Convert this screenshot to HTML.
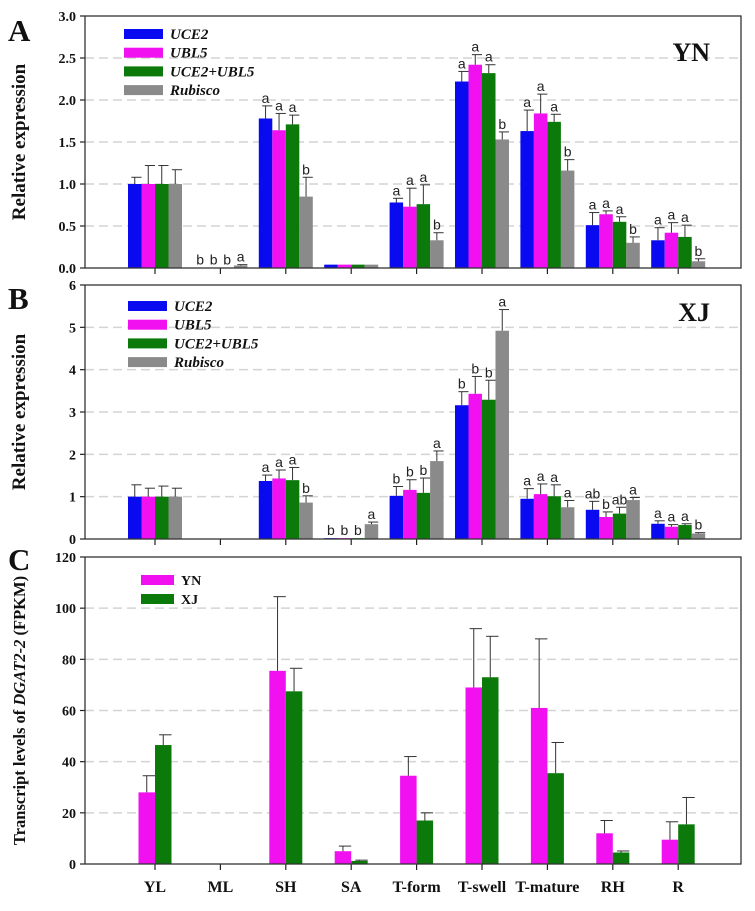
<!DOCTYPE html>
<html><head><meta charset="utf-8"><style>
body{margin:0;background:#fff;}
svg text{font-family:"Liberation Serif",serif;}
</style></head><body>
<svg id="fig" width="755" height="906" viewBox="0 0 755 906" xmlns="http://www.w3.org/2000/svg"></svg>
<script>
const categories=["YL","ML","SH","SA","T-form","T-swell","T-mature","RH","R"];
// Panel A (YN)
const aUCE2=[1.0,0.005,1.78,0.04,0.78,2.22,1.63,0.51,0.33];
const aUCE2Err=[0.08,0,0.15,0,0.05,0.12,0.25,0.15,0.15];
const aUBL5=[1.0,0.005,1.64,0.04,0.73,2.42,1.84,0.64,0.42];
const aUBL5Err=[0.22,0,0.2,0,0.22,0.12,0.23,0.04,0.12];
const aCombo=[1.0,0.005,1.71,0.04,0.76,2.32,1.74,0.55,0.37];
const aComboErr=[0.22,0,0.11,0,0.23,0.1,0.09,0.06,0.14];
const aRub=[1.0,0.03,0.85,0.04,0.33,1.53,1.16,0.30,0.08];
const aRubErr=[0.17,0.01,0.23,0,0.09,0.09,0.13,0.07,0.03];
const aLetters=[["","","",""],["b","b","b","a"],["a","a","a","b"],["","","",""],["a","a","a","b"],["a","a","a","b"],["a","a","a","b"],["a","a","a","b"],["a","a","a","b"]];
const aTicks=["0.0","0.5","1.0","1.5","2.0","2.5","3.0"];
// Panel B (XJ)
const bUCE2=[1.0,0,1.37,0.02,1.02,3.16,0.95,0.69,0.36];
const bUCE2Err=[0.28,0,0.14,0,0.22,0.32,0.24,0.2,0.07];
const bUBL5=[1.0,0,1.43,0.02,1.16,3.43,1.06,0.52,0.29];
const bUBL5Err=[0.2,0,0.2,0,0.24,0.41,0.24,0.12,0.05];
const bCombo=[1.0,0,1.39,0.02,1.09,3.29,1.01,0.6,0.33];
const bComboErr=[0.25,0,0.3,0,0.35,0.46,0.27,0.15,0.03];
const bRub=[1.0,0.01,0.86,0.35,1.84,4.92,0.75,0.92,0.13];
const bRubErr=[0.2,0,0.16,0.05,0.24,0.5,0.16,0.06,0.02];
const bLetters=[["","","",""],["","","",""],["a","a","a","b"],["b","b","b","a"],["b","b","b","a"],["b","b","b","a"],["a","a","a","a"],["ab","b","ab","a"],["a","a","a","b"]];
const bTicks=["0","1","2","3","4","5","6"];
// Panel C
const cYN=[28,0,75.5,5,34.5,69,61,12,9.5];
const cYNErr=[6.5,0,29,2,7.5,23,27,5,7];
const cXJ=[46.5,0,67.5,1.2,17,73,35.5,4.5,15.5];
const cXJErr=[4,0,9,0.3,3,16,12,0.6,10.5];
const cTicks=["0","20","40","60","80","100","120"];

const svg=document.getElementById('fig');
const NS="http://www.w3.org/2000/svg";
function mk(tag,attrs,parent){const e=document.createElementNS(NS,tag);for(const k in attrs)e.setAttribute(k,attrs[k]);(parent||svg).appendChild(e);return e;}
const L=85,R=741;
function xPos(i){return 155+65.4*i;}
const colors={blue:"#0a0af0",mag:"#f010f0",green:"#0b7a0b",gray:"#8a8a8a"};

function panel(name,top,bottom,ticks,max,series,letters,barW,legend,legendY,legendX,tag,tagY,ylabel,letter,letterY){
  const g=mk('g',{});
  
  
  const y=v=>bottom-(v/max)*(bottom-top);
  ticks.forEach((t,k)=>{
    const v=max*k/(ticks.length-1);const yy=y(v);
    if(k>0&&k<ticks.length-1){const gl=mk('line',{x1:L,x2:R,y1:yy,y2:yy,stroke:"#d4d4d4","stroke-width":1.5,"stroke-dasharray":"9,5"},g);}
    mk('line',{x1:L-5,x2:L,y1:yy,y2:yy,stroke:"#222","stroke-width":1.2},g);
    const tx=mk('text',{x:L-9,y:yy+5,"text-anchor":"end","font-size":14,"font-weight":"bold",fill:"#111"},g);tx.textContent=t;
    
  });
  const n=series.length;
  categories.forEach((c,i)=>{
    mk('line',{x1:xPos(i),x2:xPos(i),y1:bottom,y2:bottom+6,stroke:"#222","stroke-width":1.2},g);
    series.forEach((s,j)=>{
      const cx=xPos(i)+(j-(n-1)/2)*barW;const v=s.vals[i];const e=s.err[i];
      const yv=y(v);
      const r=mk('rect',{x:cx-barW/2,y:yv,width:barW,height:Math.max(0,bottom-yv),fill:s.color},g);
      
      if(e>0){const ye=y(v+e);
        mk('line',{x1:cx,x2:cx,y1:yv,y2:ye,stroke:"#333","stroke-width":1},g);
        mk('line',{x1:cx-barW/4,x2:cx+barW/2,y1:ye,y2:ye,stroke:"#333","stroke-width":1},g);}
      if(letters&&letters[i][j]){
        const lt=mk('text',{x:cx,y:y(v+e)-3,"text-anchor":"middle","font-size":14,fill:"#222"},g);
        lt.setAttribute('style','font-family:"Liberation Sans",sans-serif');
        lt.textContent=letters[i][j];
      }
    });
  });
  const fr=mk('rect',{x:L,y:top,width:R-L,height:bottom-top,fill:"none",stroke:"#333","stroke-width":1.3},g);
  
  legend.forEach((it,k)=>{
    const ly=legendY+k*legend.step;
    const sw=mk('rect',{x:legendX,y:ly-5,width:legend.sw,height:10,fill:it.color},g);
    
    const t=mk('text',{x:legendX+legend.sw+7,y:ly+5,"font-size":legend.fs,"font-weight":"bold","font-style":legend.italic?"italic":"normal",fill:"#111"},g);
    t.textContent=it.label;
  });
  if(tag){const t=mk('text',{x:710,y:tagY,"text-anchor":"end","font-size":26,"font-weight":"bold",fill:"#111"},g);t.textContent=tag;}
  const cy=(top+bottom)/2;
  const yt=mk('text',{x:0,y:0,transform:`translate(25,${cy}) rotate(-90)`,"text-anchor":"middle","font-size":ylabel.fs,"font-weight":"bold",fill:"#111"},g);
  yt.innerHTML=ylabel.html;
  const pl=mk('text',{x:8,y:letterY,"font-size":31,"font-weight":"bold",fill:"#111"},g);pl.textContent=letter;
  
}
const leg4=[{label:"UCE2",color:colors.blue},{label:"UBL5",color:colors.mag},{label:"UCE2+UBL5",color:colors.green},{label:"Rubisco",color:colors.gray}];
leg4.step=18.7;leg4.sw=39;leg4.fs=15;leg4.italic=true;
panel('panel-a-yn',16,268,aTicks,3,[
 {key:'uce2',vals:aUCE2,err:aUCE2Err,color:colors.blue},
 {key:'ubl5',vals:aUBL5,err:aUBL5Err,color:colors.mag},
 {key:'combo',vals:aCombo,err:aComboErr,color:colors.green},
 {key:'rubisco',vals:aRub,err:aRubErr,color:colors.gray}],aLetters,13.5,leg4,34,124,"YN",61,{fs:19,html:"Relative expression"},"A",41);
panel('panel-b-xj',285,539,bTicks,6,[
 {key:'uce2',vals:bUCE2,err:bUCE2Err,color:colors.blue},
 {key:'ubl5',vals:bUBL5,err:bUBL5Err,color:colors.mag},
 {key:'combo',vals:bCombo,err:bComboErr,color:colors.green},
 {key:'rubisco',vals:bRub,err:bRubErr,color:colors.gray}],bLetters,13.5,leg4,306,128,"XJ",321,{fs:19,html:"Relative expression"},"B",309);
const leg2=[{label:"YN",color:colors.mag},{label:"XJ",color:colors.green}];
leg2.step=19;leg2.sw=33;leg2.fs=14;leg2.italic=false;
panel('panel-c-transcript',557,864,cTicks,120,[
 {key:'yn',vals:cYN,err:cYNErr,color:colors.mag},
 {key:'xj',vals:cXJ,err:cXJErr,color:colors.green}],null,16.5,leg2,580,141,null,0,{fs:16.5,html:'Transcript levels of <tspan font-style="italic">DGAT2-2</tspan> (FPKM)'},"C",570);
categories.forEach((c,i)=>{
  const t=mk('text',{x:xPos(i),y:892,"text-anchor":"middle","font-size":16,"font-weight":"bold",fill:"#111"});
  t.textContent=c;
  
  
});
</script>
</body></html>
